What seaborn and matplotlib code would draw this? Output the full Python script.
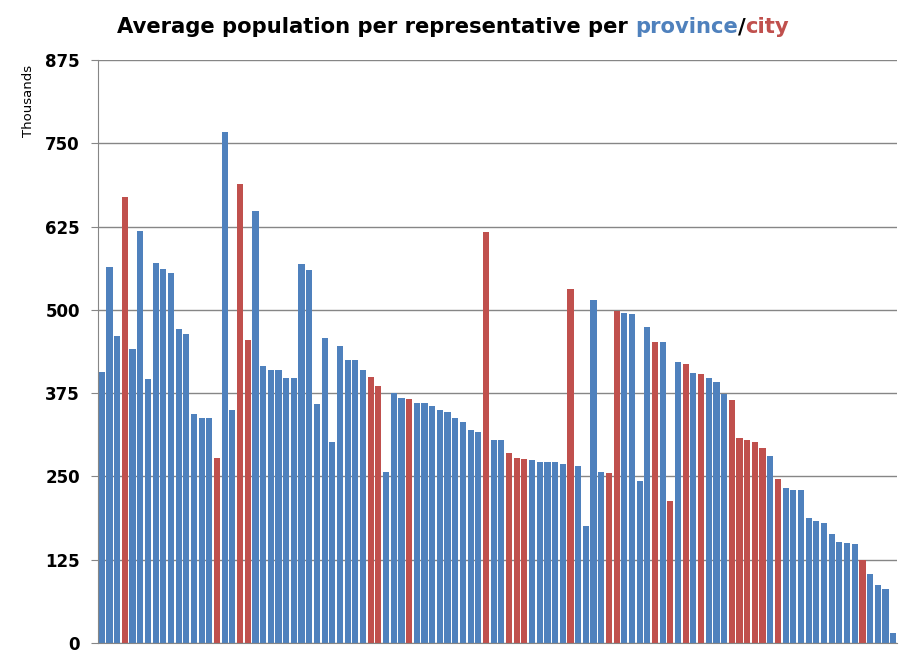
import numpy as np
import pandas as pd
from matplotlib import pyplot as plt
import seaborn as sns

# average population per representative (thousands), in chart order
avg_pop = [407, 565, 460, 670, 441, 619, 396, 571, 562, 556,
           471, 463, 344, 338, 338, 277, 767, 350, 689, 454,
           649, 415, 410, 410, 397, 397, 569, 560, 358, 457,
           302, 446, 424, 424, 410, 399, 386, 256, 375, 367,
           366, 360, 360, 355, 350, 347, 337, 331, 319, 316,
           617, 305, 304, 285, 277, 276, 274, 272, 272, 271,
           268, 532, 265, 176, 515, 256, 255, 499, 496, 494,
           243, 475, 452, 451, 213, 421, 418, 405, 403, 397,
           391, 373, 364, 307, 305, 301, 292, 280, 246, 232,
           230, 229, 187, 183, 180, 163, 151, 150, 148, 125,
           103, 87, 81, 15]

# P = province, C = city
kind_codes = ('PPPCPPPPPP' 'PPPPPCPPCC' 'PPPPPPPPPP' 'PPPPPCCPPP'
              'CPPPPPPPPP' 'CPPCCCPPPP' 'PCPPPPCCPP' 'PPCPCPCPCP'
              'PPCCCCCPCP' 'PPPPPPPPPC' 'PPPP')

y_ticks = [0, 125, 250, 375, 500, 625, 750, 875]

BLUE = '#4F81BD'
RED = '#C0504D'
GRID = '#868686'

df = pd.DataFrame({'idx': np.arange(len(avg_pop)),
                   'value': avg_pop,
                   'kind': ['province' if k == 'P' else 'city' for k in kind_codes]})

sns.set_style('white')
plt.rcParams['font.family'] = ['DejaVu Sans']

fig = plt.figure(figsize=(9.13, 6.63), dpi=100)
ax = fig.add_axes([0.1073, 0.0302, 0.8752, 0.8793])

sns.barplot(data=df, x='idx', y='value', hue='kind', palette={'province': BLUE, 'city': RED},
            dodge=False, width=0.8, legend=False, saturation=1, linewidth=0, ax=ax)

ax.set_ylim(0, 875)
ax.set_xlim(-0.5, len(avg_pop) - 0.5)
ax.set_yticks(y_ticks)
ax.set_yticklabels([str(t) for t in y_ticks], fontsize=12, fontweight='bold', color='black')
ax.set_xticks([])
ax.set_xlabel('')
ax.set_ylabel('')
ax.yaxis.grid(True, color=GRID, lw=1)
ax.set_axisbelow(True)
for side in ['top', 'right']:
    ax.spines[side].set_visible(False)
for side in ['left', 'bottom']:
    ax.spines[side].set_color(GRID)
ax.tick_params(axis='y', length=5, color=GRID, pad=8, left=True)

fig.text(0.031, 0.848, 'Thousands', rotation=90, fontsize=9.5, ha='center', va='center',
         color='black')

# multicoloured title
t1 = fig.text(0.128, 0.950, 'Average population per representative per ',
              fontsize=15.2, fontweight='bold', color='black', va='baseline')
t2 = ax.annotate('province', xycoords=t1, xy=(1, 0), va='bottom',
                 fontsize=15.2, fontweight='bold', color=BLUE)
t3 = ax.annotate('/', xycoords=t2, xy=(1, 0), va='bottom',
                 fontsize=15.2, fontweight='bold', color='black')
ax.annotate('city', xycoords=t3, xy=(1, 0), va='bottom',
            fontsize=15.2, fontweight='bold', color=RED)

fig.savefig('out.png', dpi=100)
